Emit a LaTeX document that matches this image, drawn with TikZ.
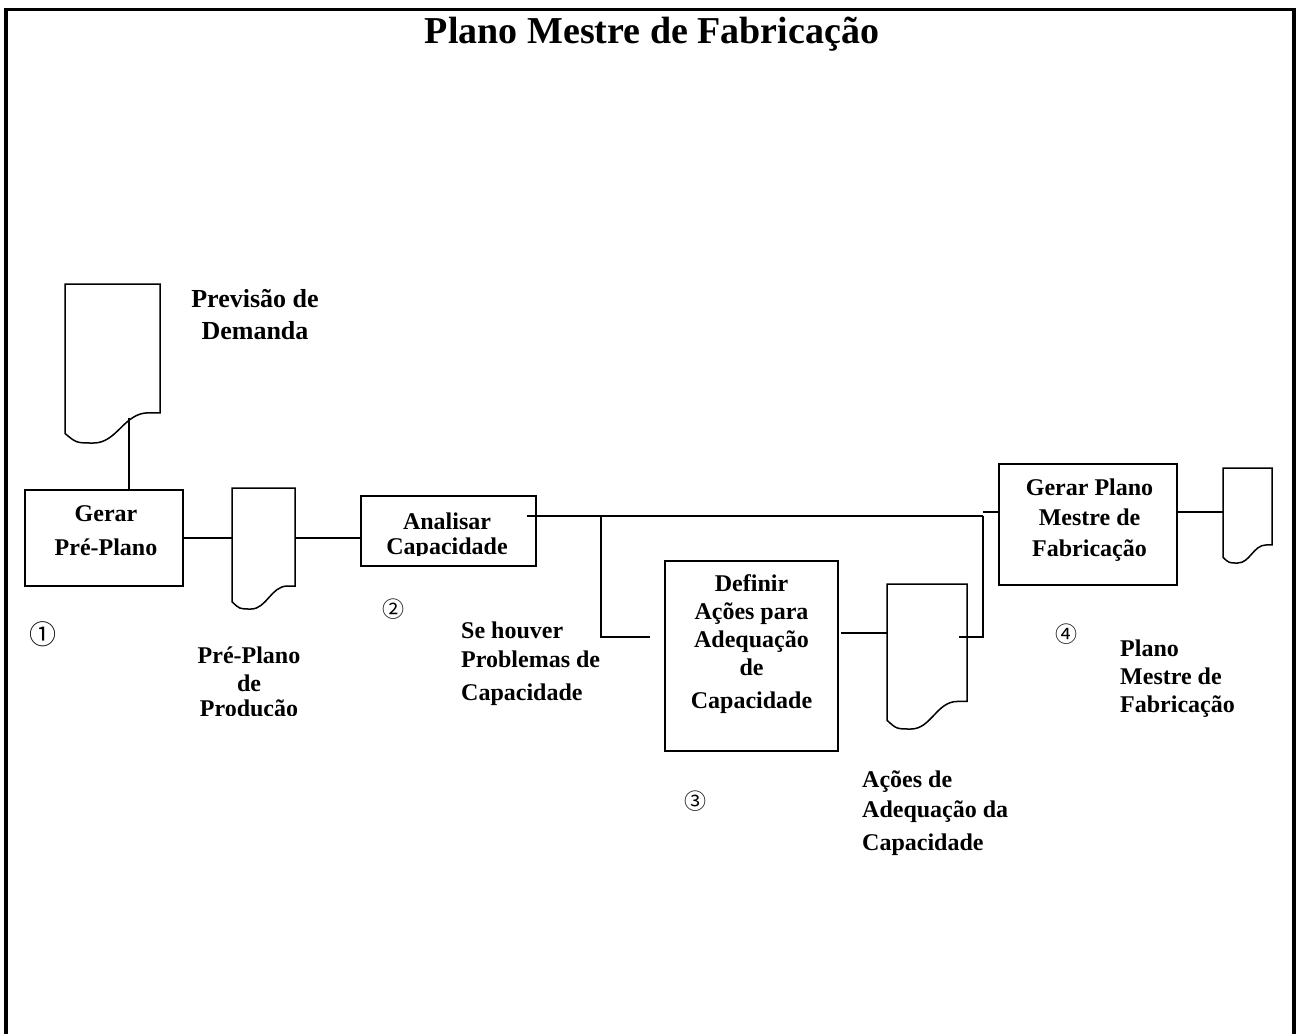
\documentclass[tikz,border=0pt]{standalone}
\usepackage{fontspec}
\setmainfont{Liberation Serif}
\newfontfamily\circfont{Noto Sans CJK JP}
\usepackage{tikz}
\usetikzlibrary{calc}

\newcommand{\sheetoutline}[1]{%
  \draw[wire] let \p1=(#1.north west), \p2=(#1.south east) in
    (\p1) -- (\x2,\y1) -- (\x2,{\y2+0.19*(\y1-\y2)})
    -- ({\x2-0.12*(\x2-\x1)},{\y2+0.19*(\y1-\y2)})
    .. controls ({\x2-0.38*(\x2-\x1)},{\y2+0.19*(\y1-\y2)}) and ({\x1+0.55*(\x2-\x1)},\y2) .. ({\x1+0.3*(\x2-\x1)},\y2)
    .. controls ({\x1+0.12*(\x2-\x1)},\y2) .. (\x1,{\y2+0.06*(\y1-\y2)})
    -- cycle;}

\begin{document}
\begin{tikzpicture}[
    x=1pt, y=-1pt,
    wire/.style={line width=1.5pt},
    box/.style={draw, line width=1.5pt, rectangle, inner sep=0},
    sheet/.style={rectangle, inner sep=0, outer sep=0},
    txt/.style={font=\fontsize{24}{29}\selectfont\bfseries, align=center, inner sep=0, anchor=base},
    txtl/.style={txt, align=left, anchor=base west},
    num/.style={font=\circfont\fontsize{22}{22}\selectfont, inner sep=0}
  ]
    \useasboundingbox (0,0) rectangle (1300,1034);
    \draw[line width=3.5pt] (6,1034) -- (6,9.5) -- (1294,9.5) -- (1294,1034);
    \node[font=\fontsize{38}{42}\selectfont\bfseries, anchor=base, inner sep=0] (title) at (652,43) {Plano Mestre de Fabricação};

    \node[sheet, minimum width=95, minimum height=159] (prev) at (112.5,363.5) {};
    \node[box, minimum width=158, minimum height=96] (gerar) at (104,538) {};
    \node[sheet, minimum width=63, minimum height=121] (preplano) at (263.5,548.5) {};
    \node[box, minimum width=175, minimum height=70] (analisar) at (448.5,531) {};
    \node[box, minimum width=173, minimum height=190] (definir) at (751.5,656) {};
    \node[sheet, minimum width=80, minimum height=145] (acoes) at (927,656.5) {};
    \node[box, minimum width=178, minimum height=121] (gerarplano) at (1088,524.5) {};
    \node[sheet, minimum width=49, minimum height=95] (planodoc) at (1247.5,515.5) {};
    \sheetoutline{prev}
    \sheetoutline{preplano}
    \sheetoutline{acoes}
    \sheetoutline{planodoc}

    \node[txt, font=\fontsize{26}{30}\selectfont\bfseries] (prevlbl) at (255,339) {Previsão de\\[2pt]Demanda};
    \node[txt] (gerarlbl) at (106,555) {Gerar\\[5pt]Pré-Plano};
    \begin{scope}
      \clip (150,630) rectangle (350,715);
      \node[txt] (preplanolbl) at (249,716) {Pré-Plano\\[-1pt]de\\[-4pt]Produção};
    \end{scope}
    \begin{scope}
      \clip (370,500) rectangle (530,555);
      \node[txt] (analisarlbl) at (447,554) {Analisar\\[-4pt]Capacidade};
    \end{scope}
    \node[txtl] (selbl) at (461,700) {Se houver\\Problemas de\\[4pt]Capacidade};
    \node[txt] (definirlbl) at (751.5,708) {Definir\\[-1pt]Ações para\\[-1pt]Adequação\\[-1pt]de\\[4pt]Capacidade};
    \node[txtl] (acoeslbl) at (862,850) {Ações de\\[1pt]Adequação da\\[4pt]Capacidade};
    \node[txt] (gerarplanolbl) at (1089.5,556) {Gerar Plano\\[1pt]Mestre de\\[2pt]Fabricação};
    \node[txtl] (planolbl) at (1120,712) {Plano\\[-1pt]Mestre de\\[-1pt]Fabricação};

    \node[num, font=\circfont\fontsize{27}{27}\selectfont] (n1) at (43,634) {①};
    \node[num] (n2) at (393,609) {②};
    \node[num] (n3) at (695,801) {③};
    \node[num] (n4) at (1066,634) {④};

    \coordinate (prevtap) at (129,418);
    \coordinate (anaout) at (527,516);
    \coordinate (split) at (601,516);
    \coordinate (merge) at (983,516);
    \coordinate (defin) at (650,637);
    \coordinate (acin) at (841,633);
    \coordinate (acout) at (959,637);
    \coordinate (plin) at (983,512);

    \draw[wire] (prevtap) -- (prevtap |- gerar.north);
    \draw[wire] (gerar.east) -- (gerar.east -| preplano.west);
    \draw[wire] (gerar.east -| preplano.east) -- (gerar.east -| analisar.west);
    \draw[wire] (anaout) -- (merge);
    \draw[wire] (split) |- (defin);
    \draw[wire] (acin) -- (acin -| acoes.west);
    \draw[wire] (acout) -| (merge);
    \draw[wire] (plin) -- (plin -| gerarplano.west);
    \draw[wire] (plin -| gerarplano.east) -- (plin -| planodoc.west);
  \end{tikzpicture}
\end{document}
